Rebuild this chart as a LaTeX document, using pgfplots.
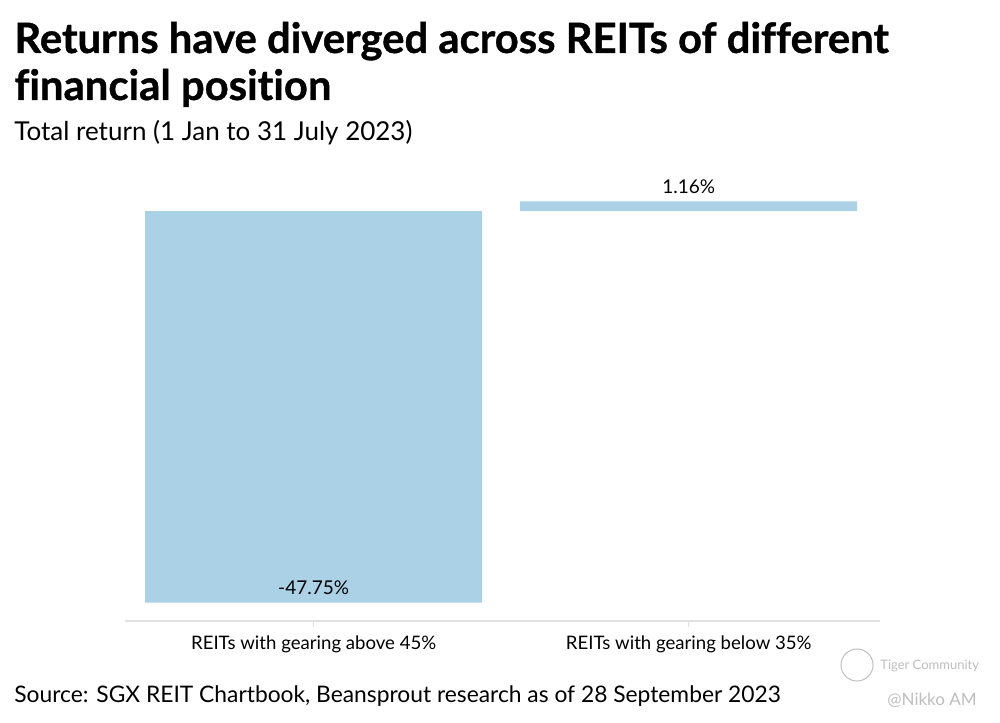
\documentclass[border=0pt]{standalone}
\usepackage{fontspec}
\setmainfont{Lato}[Ligatures=NoCommon]
\newfontfamily\titlefont{Lato}[Ligatures=NoCommon, BoldFeatures={FakeBold=0.9}]
\usepackage{pgfplots}
\pgfplotsset{compat=1.18}
\definecolor{barblue}{RGB}{171,209,230}
\definecolor{axisgray}{RGB}{224,224,224}
\definecolor{wmgray}{RGB}{190,190,190}
% layout in reference pixels, measured from the top: 1px = 0.5pt
\newcommand{\px}[2]{(#1*0.5pt,{(722-#2)*0.5pt})}
\begin{document}
\begin{tikzpicture}
\path[use as bounding box] \px{0}{722} rectangle \px{1000}{0};
\node[anchor=base west,inner sep=0,font=\fontsize{20.9}{24}\titlefont\bfseries] at \px{14}{53} {Returns have diverged across REITs of different};
\node[anchor=base west,inner sep=0,font=\fontsize{20.9}{24}\titlefont\bfseries] at \px{14}{100} {financial position};
\node[anchor=base west,inner sep=0,font=\fontsize{13}{15}\selectfont] at \px{14}{141} {Total return (1 Jan to 31 July 2023)};
\begin{axis}[
    at={(62.5pt,50.5pt)}, anchor=south west,
    scale only axis,
    width=377.5pt, height=213.2pt,
    ybar, bar width=168.5pt,
    xmin=-0.503, xmax=1.51,
    ymin=-50, ymax=2,
    axis x line*=bottom,
    axis y line=none,
    x axis line style={axisgray, line width=0.6pt, -},
    xtick={0,1},
    xticklabels={REITs with gearing above 45\%, REITs with gearing below 35\%},
    major tick length=3pt,
    tick style={axisgray, line width=0.6pt},
    xtick pos=bottom,
    tick align=outside,
    xticklabel style={font=\fontsize{9.3}{11}\selectfont, yshift=-1pt},
    clip=false,
]
\addplot[fill=barblue, draw=none] coordinates {(0,-47.75) (1,1.16)};
\node[anchor=base, font=\fontsize{9.5}{11}\selectfont] at (axis cs:0,-47.75) [yshift=4pt] {-47.75\%};
\node[anchor=base, font=\fontsize{9.5}{11}\selectfont] at (axis cs:1,1.16) [yshift=4pt] {1.16\%};
\end{axis}
\node[anchor=base west,inner sep=0,font=\fontsize{11.4}{14}\selectfont] at \px{14}{703} {Source: SGX REIT Chartbook, Beansprout research as of 28 September 2023};
\draw[wmgray, line width=0.5pt] \px{857}{665} circle (8pt);
\node[anchor=base west,inner sep=0,font=\fontsize{6.5}{8}\selectfont,text=wmgray] at \px{880}{670} {Tiger Community};
\node[anchor=base west,inner sep=0,font=\fontsize{8.5}{10}\selectfont,text=wmgray] at \px{887}{705} {@Nikko AM};
\end{tikzpicture}
\end{document}
